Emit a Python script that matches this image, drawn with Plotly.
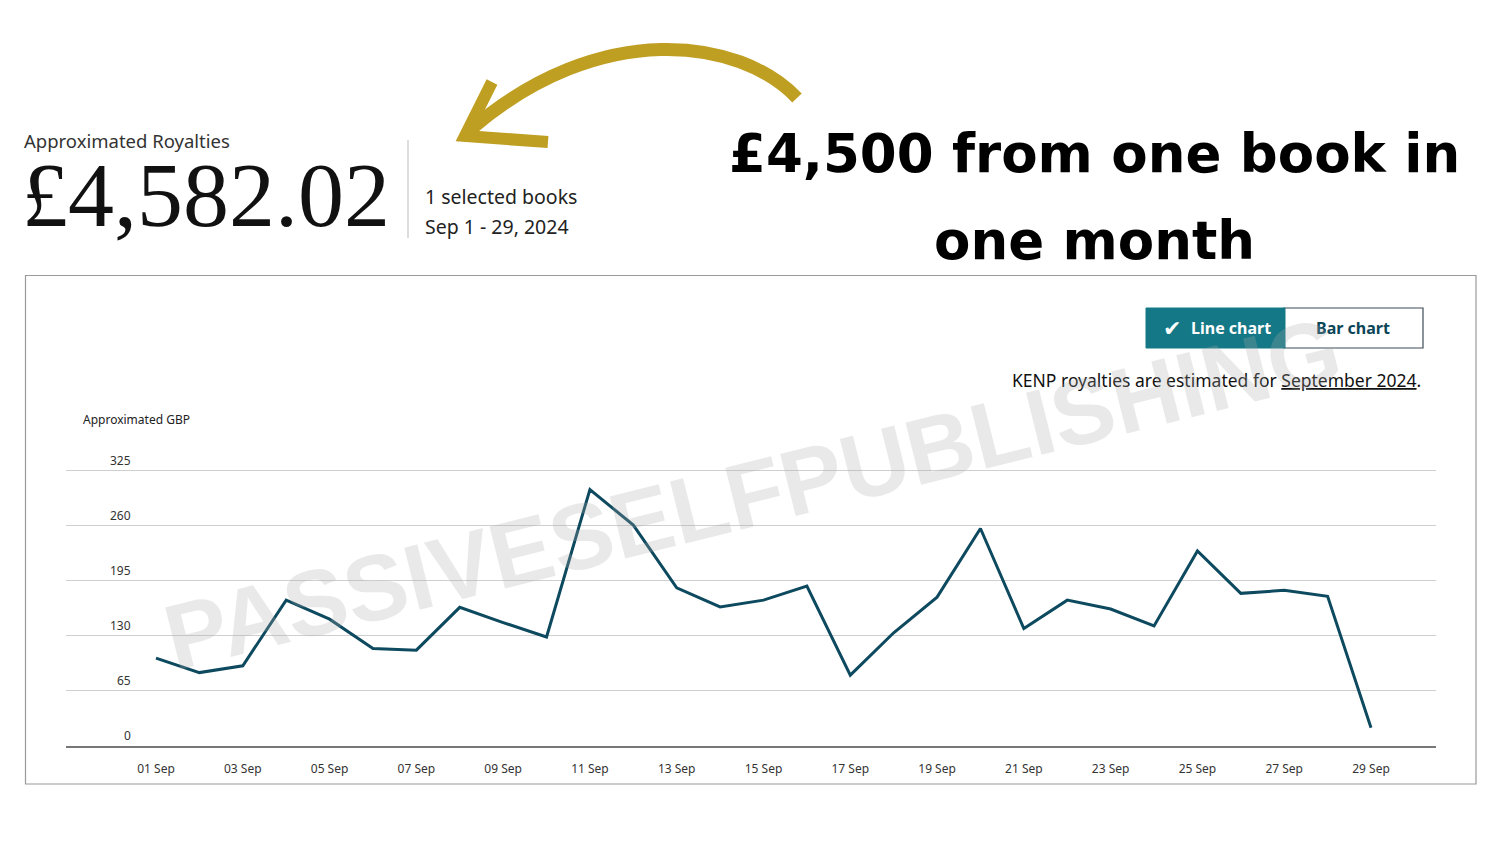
import plotly.graph_objects as go

# ---------------- data ----------------
day_labels = [f"{d:02d} Sep" for d in range(1, 30)]
royalties = [103, 86, 94, 171.5, 149, 114.5, 112.5, 163, 145, 128,
             302, 260, 186, 163.5, 171.5, 188, 83, 133, 175, 256,
             138, 171.5, 161, 141, 229.5, 179.5, 183, 176, 21]
y_ticks = [0, 65, 130, 195, 260, 325]
x_tick_labels = day_labels[::2]

total_text = "£4,582.02"
headline_lines = ["£4,500 from one book in", "one month"]

W, H = 1500, 844


def px(x):
    return x / W


def py(y):
    return 1 - y / H


LINE_COLOR = "#0e4a5f"
GOLD = "#bf9f22"

fig = go.Figure()
fig.add_trace(go.Scatter(
    x=day_labels, y=royalties, mode="lines",
    line=dict(color=LINE_COLOR, width=3),
    hoverinfo="x+y", showlegend=False,
))

# plot area pixel geometry
left, right = 66, 1436
bottom = 745.5
grid_top = 470
first_x, last_x = 156, 1371
step = (last_x - first_x) / (len(day_labels) - 1)
x_lo = -(first_x - left) / step
x_hi = (len(day_labels) - 1) + (right - last_x) / step
ppu = (bottom - grid_top) / max(y_ticks)   # pixels per unit
y_max = max(y_ticks) + 5
top = bottom - y_max * ppu

fig.update_layout(
    width=W, height=H,
    margin=dict(l=0, r=0, t=0, b=0),
    paper_bgcolor="white", plot_bgcolor="white",
    showlegend=False,
    xaxis=dict(
        domain=[px(left), px(right)],
        type="category", range=[x_lo, x_hi],
        tickvals=x_tick_labels, ticktext=x_tick_labels,
        showgrid=False, zeroline=False,
        showline=True, linecolor="#777", linewidth=1.5,
        ticks="outside", ticklen=11, tickcolor="rgba(0,0,0,0)",
        tickfont=dict(family="Noto Sans", size=12, color="#333"),
        fixedrange=True,
    ),
    yaxis=dict(
        domain=[py(bottom), py(top)],
        range=[0, y_max],
        tickvals=y_ticks, showticklabels=False,
        showgrid=True, gridcolor="#cfcfcf", gridwidth=1,
        zeroline=False, showline=False, ticks="",
        fixedrange=True,
    ),
)

annotations = []
# y tick labels above gridlines
for v in y_ticks:
    annotations.append(dict(
        x=px(133), y=v, xref="paper", yref="y", xanchor="right", yanchor="middle",
        yshift=10, text=str(v), showarrow=False,
        font=dict(family="Noto Sans", size=12, color="#333"),
    ))

annotations += [
    dict(x=px(81), y=py(420), xref="paper", yref="paper", xanchor="left", yanchor="middle",
         text="Approximated GBP", showarrow=False,
         font=dict(family="Noto Sans", size=12, color="#222")),
    dict(x=px(22), y=py(141), xref="paper", yref="paper", xanchor="left", yanchor="middle",
         text="Approximated Royalties", showarrow=False,
         font=dict(family="Noto Sans", size=18.5, color="#333")),
    dict(x=px(20), y=py(195), xref="paper", yref="paper", xanchor="left", yanchor="middle",
         text=total_text, showarrow=False,
         font=dict(family="Liberation Serif", size=92, color="#111")),
    dict(x=px(423), y=py(196), xref="paper", yref="paper", xanchor="left", yanchor="middle",
         text="1 selected books", showarrow=False,
         font=dict(family="Noto Sans", size=19.5, color="#222")),
    dict(x=px(423), y=py(227), xref="paper", yref="paper", xanchor="left", yanchor="middle",
         text="Sep 1 - 29, 2024", showarrow=False,
         font=dict(family="Noto Sans", size=19.5, color="#222")),
    dict(x=px(1094), y=py(153), xref="paper", yref="paper", xanchor="center", yanchor="middle",
         text=headline_lines[0], showarrow=False,
         font=dict(family="DejaVu Sans", size=53, color="#000", weight="bold")),
    dict(x=px(1094), y=py(240), xref="paper", yref="paper", xanchor="center", yanchor="middle",
         text=headline_lines[1], showarrow=False,
         font=dict(family="DejaVu Sans", size=53, color="#000", weight="bold")),
    # buttons
    dict(x=px(1172), y=py(328), xref="paper", yref="paper", xanchor="center", yanchor="middle",
         text="✔", showarrow=False,
         font=dict(family="DejaVu Sans", size=22, color="white")),
    dict(x=px(1231), y=py(328), xref="paper", yref="paper", xanchor="center", yanchor="middle",
         text="<b>Line chart</b>", showarrow=False,
         font=dict(family="Noto Sans", size=16, color="white")),
    dict(x=px(1353), y=py(328), xref="paper", yref="paper", xanchor="center", yanchor="middle",
         text="<b>Bar chart</b>", showarrow=False,
         font=dict(family="Noto Sans", size=16, color="#0b4558")),
    dict(x=px(1423), y=py(380), xref="paper", yref="paper", xanchor="right", yanchor="middle",
         text="KENP royalties are estimated for <u>September 2024</u>.", showarrow=False,
         font=dict(family="Noto Sans", size=17.5, color="#111")),
    # watermark
    dict(x=px(752), y=py(494), xref="paper", yref="paper", xanchor="center", yanchor="middle",
         text="<b>PASSIVESELFPUBLISHING</b>", showarrow=False, textangle=-14,
         font=dict(family="Liberation Sans", size=93, color="rgba(170,170,170,0.26)")),
]


def path(points):
    return "M " + " L ".join(f"{px(x):.5f},{py(y):.5f}" for x, y in points)


def curve(p0, c1, c2, p1):
    return (f"M {px(p0[0]):.5f},{py(p0[1]):.5f} C {px(c1[0]):.5f},{py(c1[1]):.5f} "
            f"{px(c2[0]):.5f},{py(c2[1]):.5f} {px(p1[0]):.5f},{py(p1[1]):.5f}")


shapes = [
    # outer frame
    dict(type="rect", xref="paper", yref="paper", x0=px(25.5), x1=px(1476), y0=py(784), y1=py(275.5),
         line=dict(color="#9a9a9a", width=1.2), fillcolor="rgba(0,0,0,0)", layer="below"),
    # separator
    dict(type="line", xref="paper", yref="paper", x0=px(408), x1=px(408), y0=py(140), y1=py(238),
         line=dict(color="#bbbbbb", width=1)),
    # buttons
    dict(type="rect", xref="paper", yref="paper", x0=px(1284), x1=px(1423), y0=py(348), y1=py(308),
         line=dict(color="#3c4d57", width=1.2), fillcolor="white"),
    dict(type="rect", xref="paper", yref="paper", x0=px(1146), x1=px(1285), y0=py(348), y1=py(308),
         line=dict(color="#157886", width=1), fillcolor="#157886"),
    # gold arrow
    dict(type="path", xref="paper", yref="paper",
         path=curve((797, 98), (740, 38), (600, 18), (470, 130)),
         line=dict(color=GOLD, width=13)),
    dict(type="path", xref="paper", yref="paper",
         path=path([(492, 82), (465, 136), (548, 142)]),
         line=dict(color=GOLD, width=12)),
]

fig.update_layout(annotations=annotations, shapes=shapes)

fig.write_html("out.html", config={"displayModeBar": False},
               post_script="document.body.style.margin='0';document.body.style.overflow='hidden';")
